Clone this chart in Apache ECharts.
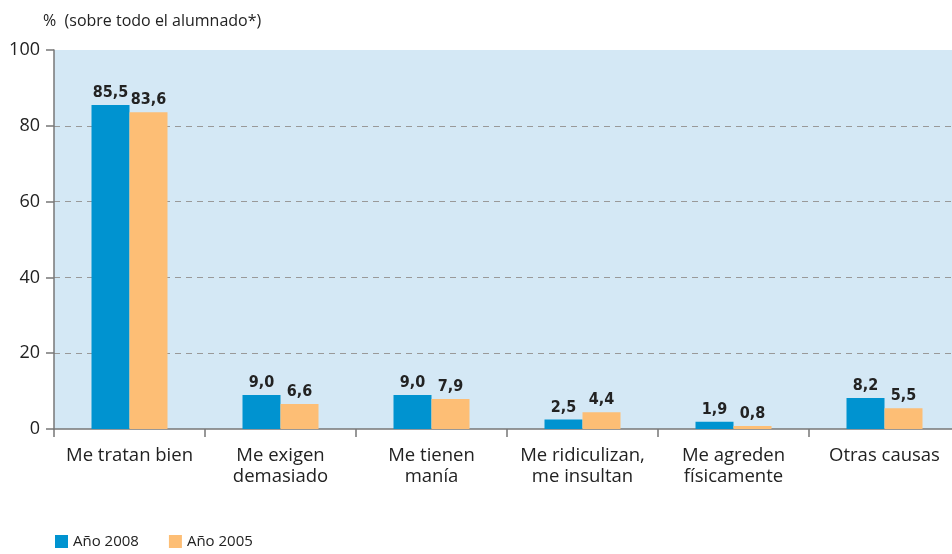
<!DOCTYPE html>
<html lang="es">
<head>
    <meta charset="UTF-8">
    <title>Causas</title>
    <script src="https://cdnjs.cloudflare.com/ajax/libs/echarts/6.0.0/echarts.min.js"></script>
    <style>
        html, body { margin: 0; padding: 0; background: #fff; }
        #chart { width: 952px; height: 554px; }
    </style>
</head>
<body>
<div id="chart"></div>
<script>
    const categories = ['Me tratan bien', 'Me exigen\ndemasiado', 'Me tienen\nmanía', 'Me ridiculizan,\nme insultan', 'Me agreden\nfísicamente', 'Otras causas'];
    const year2008 = [85.5, 9.0, 9.0, 2.5, 1.9, 8.2];
    const year2005 = [83.6, 6.6, 7.9, 4.4, 0.8, 5.5];
    const yTicks = [0, 20, 40, 60, 80, 100];

    const font = '"Open Sans", "Noto Sans", sans-serif';
    const fmt = v => v.toFixed(1).replace('.', ',');

    const chart = echarts.init(document.getElementById('chart'));
    const labelStyle = {
        show: true,
        position: 'top',
        distance: 4,
        fontFamily: '"Liberation Sans Narrow", "DejaVu Sans Condensed", sans-serif',
        fontWeight: 'bold',
        fontSize: 16,
        color: '#222',
        formatter: p => fmt(p.value)
    };

    chart.setOption({
        animation: false,
        textStyle: { fontFamily: font },
        title: {
            text: '%  (sobre todo el alumnado*)',
            left: 38,
            top: 8,
            textStyle: { fontFamily: font, fontSize: 16, fontWeight: 'normal', color: '#222' }
        },
        legend: {
            left: 50,
            bottom: 0,
            itemWidth: 13,
            itemHeight: 13,
            itemGap: 30,
            icon: 'rect',
            textStyle: { fontFamily: font, fontSize: 15, color: '#222' },
            data: ['Año 2008', 'Año 2005']
        },
        grid: {
            left: 54,
            width: 906,
            top: 50,
            bottom: 125,
            outerBoundsMode: 'none',
            show: true,
            backgroundColor: '#D4E8F5',
            borderWidth: 0
        },
        xAxis: {
            type: 'category',
            data: categories,
            axisLine: { lineStyle: { color: '#777', width: 1.5 } },
            axisTick: { show: true, length: 8, lineStyle: { color: '#777', width: 1.5 } },
            axisLabel: { interval: 0, fontFamily: font, fontSize: 18.5, color: '#222', lineHeight: 21, margin: 16 }
        },
        yAxis: {
            type: 'value',
            min: yTicks[0],
            max: yTicks[yTicks.length - 1],
            interval: 20,
            axisLine: { show: true, lineStyle: { color: '#777', width: 1.5 } },
            axisTick: { show: true, length: 8, lineStyle: { color: '#777', width: 1.5 } },
            axisLabel: { fontFamily: font, fontSize: 18, color: '#222', margin: 14 },
            splitLine: {
                show: true,
                lineStyle: { color: '#999', type: [6, 5], width: 1 },
                showMaxLine: false,
                showMinLine: false
            }
        },
        series: [
            {
                name: 'Año 2008',
                type: 'bar',
                data: year2008,
                barWidth: 38,
                barGap: '0%',
                itemStyle: { color: '#0093D0' },
                label: labelStyle
            },
            {
                name: 'Año 2005',
                type: 'bar',
                data: year2005,
                barWidth: 38,
                barGap: '0%',
                itemStyle: { color: '#FDBE75' },
                label: labelStyle
            }
        ]
    });
</script>
</body>
</html>
